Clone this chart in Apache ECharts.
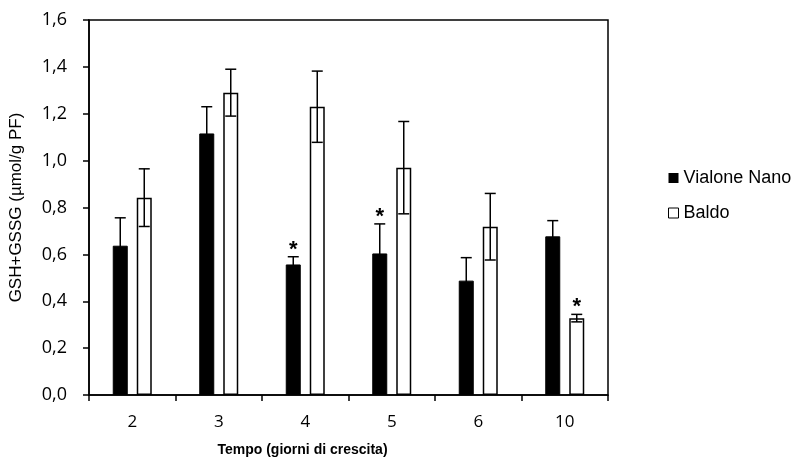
<!DOCTYPE html>
<html><head><meta charset="utf-8">
<script src="https://cdn.jsdelivr.net/npm/echarts@6/dist/echarts.min.js"></script>
<style>html,body{margin:0;padding:0;background:#fff}#c{width:796px;height:464px}</style>
</head><body><div id="c"></div>
<script>
const categories = ['2', '3', '4', '5', '6', '10'];
const vialoneNano = [0.637, 1.116, 0.557, 0.604, 0.488, 0.677];
const vialoneNanoErr = [0.119, 0.114, 0.033, 0.126, 0.098, 0.067];
const baldo = [0.842, 1.290, 1.230, 0.970, 0.718, 0.328];
const baldoErr = [0.123, 0.100, 0.152, 0.197, 0.142, 0.016];
const vialoneNanoSig = [0, 0, 1, 1, 0, 0];
const baldoSig = [0, 0, 0, 0, 0, 1];
const yMin = 0, yMax = 1.6, yStep = 0.2;

const chart = echarts.init(document.getElementById('c'), null, {renderer: 'canvas'});

function errRender(offset) {
  return function (params, api) {
    const i = api.value(0), v = api.value(1), e = api.value(2);
    const top = api.coord([i, v + e]);
    const bot = api.coord([i, v - e]);
    const x = top[0] + offset;
    const st = {stroke: '#000', lineWidth: 1.5};
    const children = [
      {type: 'line', shape: {x1: x, y1: top[1], x2: x, y2: bot[1]}, style: st},
      {type: 'line', shape: {x1: x - 5.5, y1: top[1], x2: x + 5.5, y2: top[1]}, style: st},
      {type: 'line', shape: {x1: x - 5.5, y1: bot[1], x2: x + 5.5, y2: bot[1]}, style: st}
    ];
    if (api.value(3)) {
      children.push({type: 'text', x: x, y: top[1] - 7, style: {
        text: '*', fontSize: 22, fontWeight: 'bold', fontFamily: 'Liberation Sans',
        fill: '#000', align: 'center', verticalAlign: 'middle'}});
    }
    return {type: 'group', children: children};
  };
}

const fmt = v => v.toFixed(1).replace('.', ',');

chart.setOption({
  animation: false,
  backgroundColor: '#fff',
  grid: {left: 84, right: 188, top: 20, bottom: 69, show: true, borderColor: '#000', borderWidth: 1.5, backgroundColor: 'transparent'},
  legend: {
    orient: 'vertical', left: 663, top: 164, itemWidth: 10, itemHeight: 10, itemGap: 17,
    icon: 'rect',
    textStyle: {fontFamily: 'Liberation Sans', fontSize: 18, color: '#000'},
    data: [
      {name: 'Vialone Nano', itemStyle: {color: '#000', borderWidth: 0}},
      {name: 'Baldo', itemStyle: {color: '#fff', borderColor: '#000', borderWidth: 1}}
    ]
  },
  xAxis: {
    type: 'category', data: categories,
    axisLine: {lineStyle: {color: '#000', width: 1.5}},
    axisTick: {show: true, length: 6, lineStyle: {color: '#000', width: 1.5}},
    axisLabel: {color: '#000', fontFamily: 'Open Sans', fontSize: 17, margin: 19},
    name: 'Tempo (giorni di crescita)', nameLocation: 'middle', nameGap: 48,
    nameTextStyle: {fontFamily: 'Liberation Sans', fontWeight: 'bold', fontSize: 14, color: '#000', padding: [0, 92, 0, 0]}
  },
  yAxis: {
    type: 'value', min: yMin, max: yMax, interval: yStep,
    splitLine: {show: false},
    axisLine: {show: true, lineStyle: {color: '#000', width: 1.5}},
    axisTick: {show: true, length: 6, lineStyle: {color: '#000', width: 1.5}},
    axisLabel: {color: '#000', fontFamily: 'Open Sans', fontSize: 18, margin: 22, formatter: fmt},
    name: 'GSH+GSSG (µmol/g PF)', nameLocation: 'middle', nameGap: 64, nameRotate: 90,
    nameTextStyle: {fontFamily: 'Liberation Sans', fontSize: 17, color: '#000'}
  },
  series: [
    {name: 'Vialone Nano', type: 'bar', data: vialoneNano, barWidth: 15, barGap: '60%', z: 2,
     itemStyle: {color: '#000', borderColor: '#000', borderWidth: 1}},
    {name: 'Baldo', type: 'bar', data: baldo, barWidth: 15, barGap: '60%', z: 2,
     itemStyle: {color: '#fff', borderColor: '#000', borderWidth: 1.5}},
    {type: 'custom', name: 'errVN', z: 3, renderItem: errRender(-12),
     data: categories.map((c, i) => [i, vialoneNano[i], vialoneNanoErr[i], vialoneNanoSig[i]])},
    {type: 'custom', name: 'errB', z: 3, renderItem: errRender(12),
     data: categories.map((c, i) => [i, baldo[i], baldoErr[i], baldoSig[i]])}
  ]
});
</script></body></html>
